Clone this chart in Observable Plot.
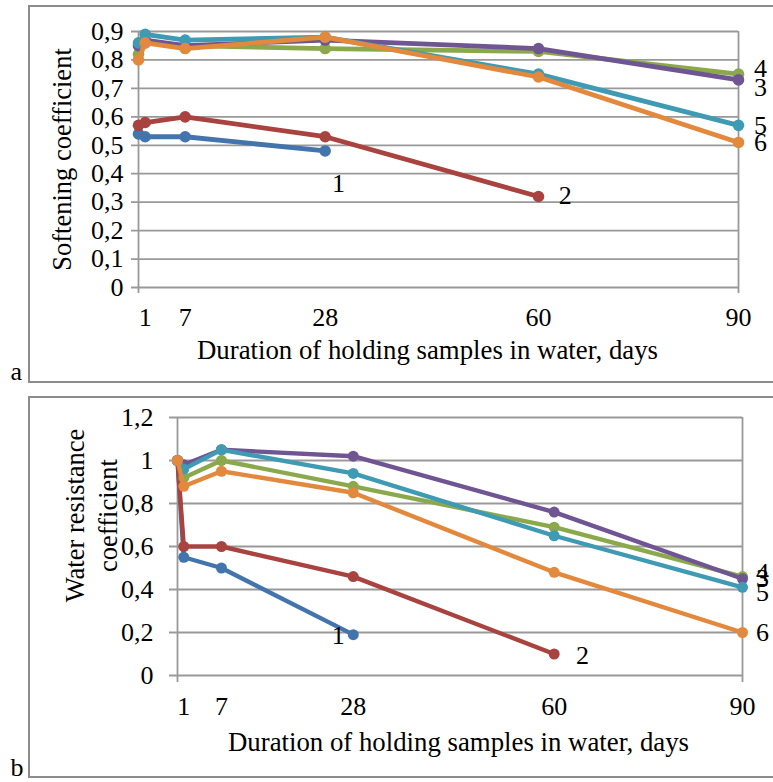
<!DOCTYPE html>
<html><head><meta charset="utf-8">
<script src="https://cdn.jsdelivr.net/npm/d3@7"></script>
<script src="https://cdn.jsdelivr.net/npm/@observablehq/plot@0.6"></script>
<style>
html,body{margin:0;padding:0;background:#fff;}
#page{position:relative;width:773px;height:782px;overflow:hidden;font-family:"Liberation Serif","Times New Roman",serif;}
#page svg text{font-family:"Liberation Serif","Times New Roman",serif !important;}
.frame{position:absolute;border:2px solid #8c8c8c;border-right:none;pointer-events:none;}
.panel{position:absolute;left:0;}
</style></head><body>
<div id="page">
<div id="pa" class="panel" style="top:0"></div>
<div id="pb" class="panel" style="top:390px"></div>
<div class="frame" style="left:28px;top:5px;width:800px;height:374px"></div>
<div class="frame" style="left:28px;top:396px;width:800px;height:378px"></div>
</div>
<script>
// ---- data ----
const days = [0, 1, 7, 28, 60, 90];
const dayTicks = [1, 7, 28, 60, 90];
const softTicks = [0, 0.1, 0.2, 0.3, 0.4, 0.5, 0.6, 0.7, 0.8, 0.9];
const waterTicks = [0, 0.2, 0.4, 0.6, 0.8, 1, 1.2];
const xTitle = "Duration of holding samples in water, days";
const softTitle = "Softening coefficient";
const waterTitle = "Water resistance\ncoefficient";

const seriesNames = ["1", "2", "4", "3", "5", "6"]; // drawing order
const seriesColors = ["#4474AC", "#A9433F", "#8BA94C", "#6F5592", "#3F9AB3", "#E2893D"];

// (a) softening coefficient
const soft1 = [0.54, 0.53, 0.53, 0.48, null, null];
const soft2 = [0.57, 0.58, 0.60, 0.53, 0.32, null];
const soft3 = [0.85, 0.87, 0.85, 0.87, 0.84, 0.73];
const soft4 = [0.82, 0.86, 0.85, 0.84, 0.83, 0.75];
const soft5 = [0.86, 0.89, 0.87, 0.88, 0.75, 0.57];
const soft6 = [0.80, 0.86, 0.84, 0.88, 0.74, 0.51];

// (b) water resistance coefficient
const water1 = [1.0, 0.55, 0.50, 0.19, null, null];
const water2 = [1.0, 0.60, 0.60, 0.46, 0.10, null];
const water3 = [1.0, 0.98, 1.05, 1.02, 0.76, 0.45];
const water4 = [1.0, 0.92, 1.00, 0.88, 0.69, 0.46];
const water5 = [1.0, 0.96, 1.05, 0.94, 0.65, 0.41];
const water6 = [1.0, 0.88, 0.95, 0.85, 0.48, 0.20];

// series labels
const softLabelText = ["1", "2", "4", "3", "5", "6"];
const softLabelDay = [30, 64, 93.3, 93.3, 93.3, 93.3];
const softLabelValue = [0.366, 0.323, 0.77, 0.703, 0.57, 0.51];
const waterLabelText = ["1", "2", "4", "3", "5", "6"];
const waterLabelDay = [25.6, 64.5, 93.2, 93.2, 93.2, 93.2];
const waterLabelValue = [0.186, 0.093, 0.479, 0.45, 0.386, 0.2];

const softSeries = {"1": soft1, "2": soft2, "3": soft3, "4": soft4, "5": soft5, "6": soft6};
const waterSeries = {"1": water1, "2": water2, "3": water3, "4": water4, "5": water5, "6": water6};

const fmt = d => String(d).replace(".", ",");
const FONT = "'Liberation Serif','Times New Roman',serif";
const gridColor = "#999999";

function seriesMarks(series, sw, r) {
  const marks = [];
  seriesNames.forEach((name, i) => {
    const rows = days.map((d, j) => ({day: d, v: series[name][j]})).filter(o => o.v != null);
    marks.push(Plot.line(rows, {x: "day", y: "v", stroke: seriesColors[i], strokeWidth: sw, strokeLinejoin: "round"}));
    marks.push(Plot.dot(rows, {x: "day", y: "v", r: r, fill: seriesColors[i], stroke: "none"}));
  });
  return marks;
}
function labelRows(t, x, y) { return t.map((s, i) => ({t: s, day: x[i], v: y[i]})); }

const midDay = (d3.min(days) + d3.max(days)) / 2;

// ---- panel a ----
const plotA = Plot.plot({
  width: 773, height: 390,
  marginLeft: 138, marginRight: 35, marginTop: 31, marginBottom: 103,
  style: {fontFamily: FONT, fontSize: "26px", background: "transparent", overflow: "visible", color: "black"},
  x: {domain: [0, 90], ticks: dayTicks, tickSize: 0, tickPadding: 20, label: null},
  y: {domain: [0, 0.9], ticks: softTicks, tickSize: 0, tickPadding: 15, tickFormat: fmt, label: null},
  marks: [
    Plot.ruleY(softTicks, {stroke: gridColor, strokeWidth: 1.8, insetLeft: -7}),
    Plot.ruleX([0, 90], {stroke: gridColor, strokeWidth: 1.8, insetBottom: -6}),
    ...seriesMarks(softSeries, 4.8, 5.8),
    Plot.text(labelRows(softLabelText, softLabelDay, softLabelValue), {x: "day", y: "v", text: "t", fontSize: 26, fill: "black"}),
    Plot.text([softTitle], {x: [0], y: [0.45], text: d => d, rotate: -90, lineAnchor: "bottom", dx: -68, fontSize: 26.5, fill: "black"}),
    Plot.text([xTitle], {x: [midDay], y: [0], text: d => d, lineAnchor: "bottom", dx: -11, dy: 71, fontSize: 26.8, fill: "black"}),
    Plot.text(["a"], {x: [0], y: [0], text: d => d, lineAnchor: "bottom", textAnchor: "start", dx: -128, dy: 92, fontSize: 26, fill: "black"})
  ]
});
document.getElementById("pa").appendChild(plotA);

// ---- panel b ----
const plotB = Plot.plot({
  width: 773, height: 392,
  marginLeft: 177, marginRight: 31, marginTop: 27, marginBottom: 107,
  style: {fontFamily: FONT, fontSize: "26px", background: "transparent", overflow: "visible", color: "black"},
  x: {domain: [0, 90], ticks: dayTicks, tickSize: 0, tickPadding: 21, label: null},
  y: {domain: [0, 1.2], ticks: waterTicks, tickSize: 0, tickPadding: 24, tickFormat: fmt, label: null},
  marks: [
    Plot.ruleY(waterTicks, {stroke: gridColor, strokeWidth: 1.8, insetLeft: -8}),
    Plot.ruleX([0, 90], {stroke: gridColor, strokeWidth: 1.8, insetBottom: -7}),
    ...seriesMarks(waterSeries, 4.4, 5.5),
    Plot.text(labelRows(waterLabelText, waterLabelDay, waterLabelValue), {x: "day", y: "v", text: "t", fontSize: 26, fill: "black"}),
    Plot.text([waterTitle], {x: [0], y: [0.6], text: d => d, rotate: -90, lineAnchor: "bottom", lineHeight: 1.23, dx: -61, dy: -31, fontSize: 26.5, fill: "black"}),
    Plot.text([xTitle], {x: [midDay], y: [0], text: d => d, lineAnchor: "bottom", dx: -1.5, dy: 75, fontSize: 26.8, fill: "black"}),
    Plot.text(["b"], {x: [0], y: [0], text: d => d, lineAnchor: "bottom", textAnchor: "start", dx: -167, dy: 100, fontSize: 26, fill: "black"})
  ]
});
document.getElementById("pb").appendChild(plotB);
</script>
</body></html>
